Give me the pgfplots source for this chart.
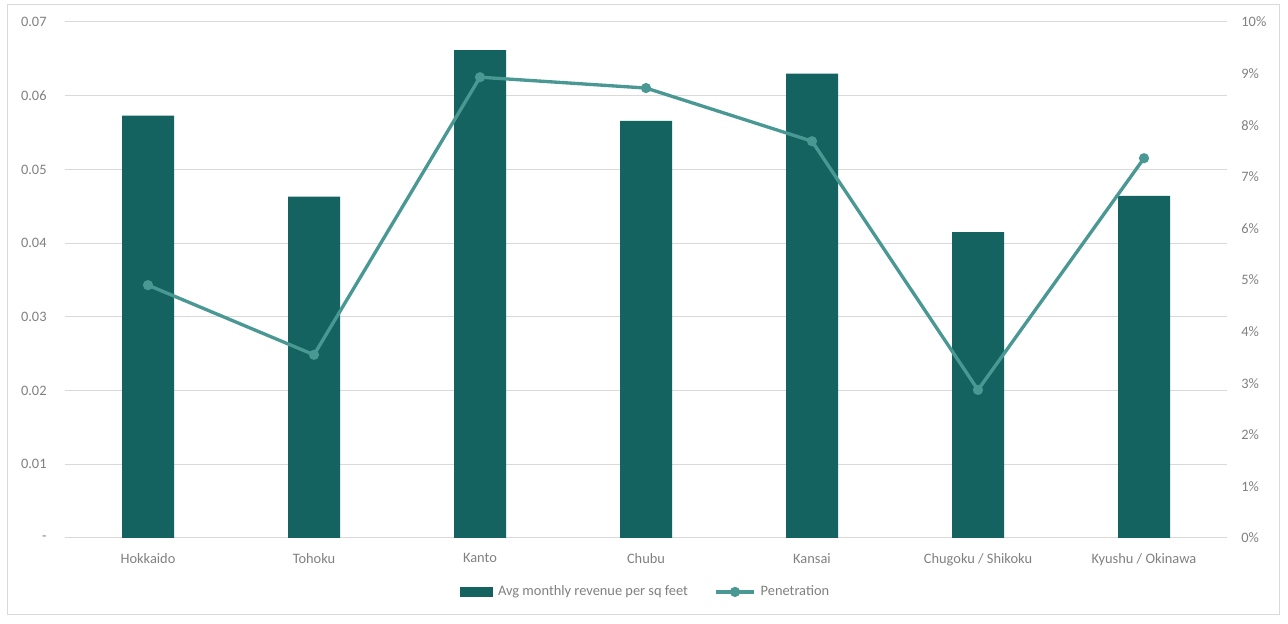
\documentclass[border=0pt]{standalone}
\usepackage{pgfplots}
\pgfplotsset{compat=1.18}
\usepackage{fontspec}
\setmainfont{Carlito}
\definecolor{barc}{RGB}{21,99,96}
\definecolor{linec}{RGB}{74,152,148}
\definecolor{gridc}{RGB}{217,217,217}
\definecolor{txtc}{RGB}{128,128,128}
\begin{document}
\fontsize{10.8}{13}\selectfont
\begin{tikzpicture}[x=1pt,y=1pt]
\useasboundingbox (0,0) rectangle (966,468);
\draw[gridc, line width=0.75pt] (5.25,6.75) rectangle (959.25,464.25);
\pgfplotsset{
  base/.style={
    scale only axis, width=871.5pt, height=387pt,
    at={(48.75pt,64.5pt)}, anchor=south west,
    xmin=-0.5, xmax=6.5,
    axis line style={draw=none},
    major tick length=0pt,
    scaled y ticks=false,
    tick label style={font=\fontsize{10.8}{13}\selectfont, text=txtc},
    /pgf/number format/assume math mode=true,
  }
}
\begin{axis}[base,
  ymin=0, ymax=0.07,
  ytick={0,0.01,0.02,0.03,0.04,0.05,0.06,0.07},
  yticklabels={-,0.01,0.02,0.03,0.04,0.05,0.06,0.07},
  ymajorgrids, grid style={gridc, line width=0.75pt},
  yticklabel style={anchor=east, xshift=-10pt},
  xtick={0,1,2,3,4,5,6},
  xticklabels={Hokkaido,Tohoku,Kanto,Chubu,Kansai,Chugoku / Shikoku,Kyushu / Okinawa},
  xticklabel style={yshift=-8pt},
]
\addplot[ybar, bar width=39pt, fill=barc, draw=none] coordinates {
 (0,0.0573) (1,0.0463) (2,0.0662) (3,0.0566) (4,0.0630) (5,0.0415) (6,0.0464)};
\end{axis}
\begin{axis}[base,
  axis x line=none,
  axis y line*=right,
  ymin=0, ymax=10,
  ytick={0,1,...,10},
  yticklabel={\pgfmathprintnumber{\tick}\%},
  yticklabel style={anchor=west, xshift=7pt},
  legend style={at={(0.5,-0.1045)}, anchor=center, draw=none,
    font=\fontsize{10.8}{13}\selectfont, text=txtc, legend columns=2,
    /tikz/every even column/.append style={column sep=18pt},
    /tikz/every odd column/.append style={column sep=2pt}},
  legend cell align=left,
]
\addlegendimage{legend image code/.code={\fill[barc] (0pt,-3.5pt) rectangle (24pt,3.5pt);}}
\addlegendentry{Avg monthly revenue per sq feet}
\addplot[linec, line width=2.5pt, mark=*, mark size=2.5pt, mark options={fill=linec, draw=linec},
  legend image code/.code={\draw[linec, line width=2.5pt] (0pt,0pt) -- (28pt,0pt); \fill[linec] (14pt,0pt) circle (2.5pt);}] coordinates {
 (0,4.90) (1,3.55) (2,8.93) (3,8.72) (4,7.69) (5,2.87) (6,7.36)};
\addlegendentry{Penetration}
\end{axis}
\end{tikzpicture}
\end{document}
